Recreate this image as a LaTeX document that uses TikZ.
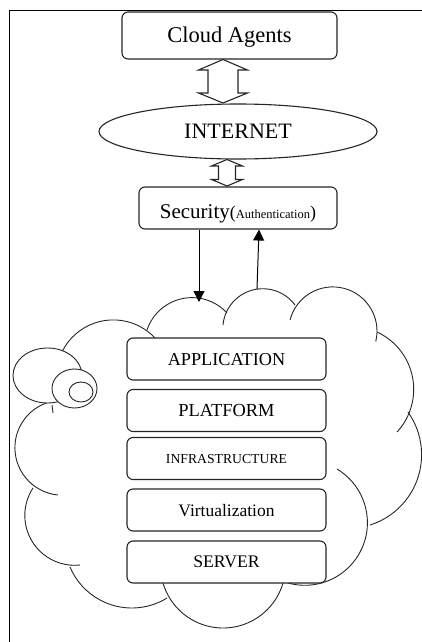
\documentclass[tikz,border=0pt]{standalone}
\usepackage{fontspec}
\setmainfont{Liberation Serif}
\usetikzlibrary{arrows.meta,shapes.geometric}
\begin{document}
\begin{tikzpicture}[x=1pt,y=-1pt,
  box/.style={draw=black!85, rounded corners=6pt, fill=white, line width=1.1pt, inner sep=0pt, align=center},
  stackbox/.style={box, minimum width=199pt, minimum height=42pt, text height=12pt, text depth=0pt},
  cl/.style={draw=black!85, line width=0.9pt},
  bub/.style={draw=black!85, line width=0.9pt, fill=white},
  hollow/.style={draw=black!85, line width=1.1pt, fill=white, line join=miter},
  thin/.style={draw=black, line width=1pt, -{Triangle[length=11pt,width=11pt]}},
]
\clip (0,0) rectangle (422,642);
% outer frame
\draw[line width=1.6pt] (9.5,10.5) rectangle (440,660);

% cloud outline
\draw[cl] (113.3,377) ++(200:57.1) arc[start angle=200, end angle=325, radius=57.1];
\draw[cl] (192,345.1) ++(198.5:47.5) arc[start angle=198.5, end angle=317.5, radius=47.5];
\draw[cl] (262.8,328.7) ++(185.3:40) arc[start angle=185.3, end angle=323.6, radius=40];
\draw[cl] (332.8,331.1) ++(194.5:44.2) arc[start angle=194.5, end angle=373.6, radius=44.2];
\draw[cl] (350.6,389.3) ++(294.7:63.1) arc[start angle=294.7, end angle=402.6, radius=63.1];
\draw[cl] (347.9,454.7) ++(324.6:73.7) arc[start angle=324.6, end angle=432.5, radius=73.7];
\draw[cl] (304.8,522.7) ++(300.9:62.6) arc[start angle=300.9, end angle=465.8, radius=62.6];
\draw[cl] (223,565.5) ++(10:62.5) arc[start angle=10, end angle=170, radius=62.5];
\draw[cl] (131.8,540.9) ++(58.3:67.1) arc[start angle=58.3, end angle=157.1, radius=67.1];
\draw[cl] (74.7,515.4) ++(83.9:49.9) arc[start angle=83.9, end angle=213.3, radius=49.9];
\draw[cl] (62.4,447.7) ++(95.3:47.5) arc[start angle=95.3, end angle=255, radius=47.5];
\draw[cl] (52,405) -- (53,413);

% callout bubbles
\node[bub, ellipse, minimum width=69pt, minimum height=55pt, inner sep=0pt] (bubA) at (47.5,375.5) {};
\node[bub, ellipse, minimum width=45pt, minimum height=39pt, inner sep=0pt] (bubB) at (74.5,388.5) {};
\node[bub, ellipse, minimum width=24pt, minimum height=20pt, inner sep=0pt] (bubC) at (81,392) {};

% top nodes
\node[box, minimum width=215pt, minimum height=47pt, text height=14pt, text depth=0pt,
      font=\fontsize{22.5}{24}\selectfont] (agents) at (229.5,35.5) {Cloud Agents};
\node[draw=black!85, line width=1.1pt, fill=white, ellipse, minimum width=278pt, minimum height=55pt,
      inner sep=0pt, text height=13pt, text depth=0pt,
      font=\fontsize{22}{24}\selectfont] (internet) at (238,131.5) {INTERNET};
\node[box, minimum width=198pt, minimum height=42pt, text height=20pt, text depth=0pt,
      font=\fontsize{21}{24}\selectfont] (security) at (238,208)
      {Security{\fontsize{18}{20}\selectfont(}{\fontsize{12.5}{14}\selectfont Authentication}{\fontsize{18}{20}\selectfont)}};

% stack
\node[stackbox, font=\fontsize{18.2}{20}\selectfont, text height=13pt] (app) at (226.5,359) {APPLICATION};
\node[stackbox, font=\fontsize{18.4}{20}\selectfont, text height=11pt] (plat) at (226.5,410.5) {PLATFORM};
\node[stackbox, font=\fontsize{13.7}{16}\selectfont, text height=9pt] (infra) at (226.5,458.5) {INFRASTRUCTURE};
\node[stackbox, font=\fontsize{17.5}{20}\selectfont, text height=13pt] (virt) at (226.5,510) {Virtualization};
\node[stackbox, font=\fontsize{17.7}{20}\selectfont, text height=11pt] (server) at (226.5,562) {SERVER};

% hollow double arrows
\draw[hollow] (223,59.5) -- (247.5,70) -- (238,70) -- (238,93) -- (247.5,93) -- (223,103)
  -- (198.5,93) -- (208,93) -- (208,70) -- (198.5,70) -- cycle;
\draw[hollow] (227,159.5) -- (242.5,166) -- (235.5,166) -- (235.5,179.5) -- (242.5,179.5) -- (227,186)
  -- (211.5,179.5) -- (218.5,179.5) -- (218.5,166) -- (211.5,166) -- cycle;

% thin arrows between security and cloud
\coordinate (cin) at (199,302);
\coordinate (cout) at (257,289);
\draw[thin] (security.south -| cin) -- (cin);
\draw[thin] (cout) -- ([xshift=21pt]security.south);
\end{tikzpicture}
\end{document}
